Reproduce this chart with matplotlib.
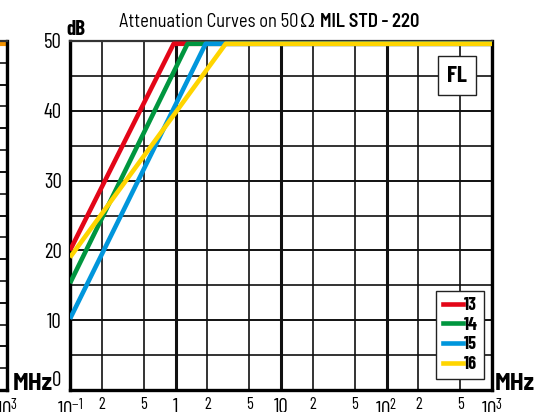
import matplotlib
matplotlib.use('Agg')
import matplotlib.pyplot as plt
from matplotlib.lines import Line2D

W, H, DPI = 551, 412, 100

# ---------------- data ----------------
series_labels = ['13', '14', '15', '16']
series_colors = ['#e30618', '#00963f', '#0096dc', '#ffd500']
freq_13 = [0.1, 0.96, 1000]
db_13 = [20.0, 49.6, 49.6]
freq_14 = [0.1, 1.30, 1000]
db_14 = [15.3, 49.6, 49.6]
freq_15 = [0.1, 1.93, 1000]
db_15 = [10.2, 49.6, 49.6]
freq_16 = [0.1, 2.99, 1000]
db_16 = [19.0, 49.6, 49.6]

x_major_ticks = [0.1, 1, 10, 100, 1000]
x_major_labels = ['$10^{-1}$', '1', '10', '$10^{2}$', '$10^{3}$']
x_minor_ticks = [0.2, 0.5, 2, 5, 20, 50, 200, 500]
x_minor_labels = ['2', '5', '2', '5', '2', '5', '2', '5']
y_major_ticks = [0, 10, 20, 30, 40, 50]
y_minor_ticks = [5, 15, 25, 35, 45]

# neighbouring chart fragment (left edge)
frag_freq = [0.1, 1000]
frag_db = [79.3, 79.3]
frag_y_major = list(range(0, 81, 10))
frag_y_minor = list(range(5, 80, 10))

FONT = 'Barlow Condensed'
SEMI = 'Barlow Semi Condensed'
plt.rcParams['font.family'] = [FONT, 'DejaVu Sans']
plt.rcParams['mathtext.fontset'] = 'custom'
plt.rcParams['mathtext.rm'] = FONT
plt.rcParams['mathtext.it'] = FONT
plt.rcParams['mathtext.bf'] = FONT + ':bold'

fig = plt.figure(figsize=(W / DPI, H / DPI), dpi=DPI)
L, R, T, B = 70, 492, 41, 390
GRID = '#111111'


def style_axes(a, ylim, ymaj, ymin):
    a.set_xscale('log')
    a.set_xlim(0.1, 1000)
    a.set_ylim(*ylim)
    a.set_yticks(ymaj)
    a.set_yticks(ymin, minor=True)
    a.set_axisbelow(True)
    a.grid(True, which='major', axis='x', color=GRID, lw=2.2)
    a.grid(True, which='minor', axis='x', color=GRID, lw=1.2)
    a.grid(True, which='major', axis='y', color=GRID, lw=1.4)
    a.grid(True, which='minor', axis='y', color=GRID, lw=1.2)
    for s in ['left', 'bottom', 'right']:
        a.spines[s].set_linewidth(2.4)
        a.spines[s].set_color('#000000')
    a.spines['top'].set_linewidth(1.6)
    a.spines['top'].set_color('#333333')


# fragment of the neighbouring chart
fx = fig.add_axes([(7 - (R - L)) / W, 1 - B / H, (R - L) / W, (B - T) / H])
style_axes(fx, (0, 80), frag_y_major, frag_y_minor)
fx.plot(frag_freq, frag_db, color='#f39200', lw=3.0, solid_capstyle='butt')
fx.set_xticks([1000])
fx.set_xticklabels(['$10^{3}$'])
fx.set_xticks([], minor=True)
fx.set_yticklabels([])
fx.tick_params(axis='both', which='both', length=0)
fx.tick_params(axis='x', which='major', pad=6, labelsize=15)

# main chart
ax = fig.add_axes([L / W, 1 - B / H, (R - L) / W, (B - T) / H])
style_axes(ax, (0, 50), y_major_ticks, y_minor_ticks)
ax.set_xticks(x_major_ticks)
ax.set_xticklabels(x_major_labels)
ax.set_xticks(x_minor_ticks, minor=True)
ax.set_xticklabels(x_minor_labels, minor=True)
ax.set_yticklabels([str(v) for v in y_major_ticks])
ax.tick_params(axis='both', which='both', length=0)
ax.tick_params(axis='x', which='major', pad=6, labelsize=15)
ax.tick_params(axis='x', which='minor', pad=5, labelsize=12)
ax.tick_params(axis='y', which='major', pad=6, labelsize=15)
ax.yaxis.get_major_ticks()[0].label1.set_va('bottom')

series = [(freq_13, db_13), (freq_14, db_14), (freq_15, db_15), (freq_16, db_16)]
handles = []
for (f, d), c, lab in zip(series, series_colors, series_labels):
    ax.plot(f, d, color=c, lw=3.3, solid_capstyle='butt', zorder=3)
    handles.append(Line2D([], [], color=c, lw=3.3))

leg = ax.legend(handles, series_labels, loc='lower right',
                bbox_to_anchor=(0.982, 0.031), frameon=True, fancybox=False,
                edgecolor='#222222', framealpha=1, handlelength=1.15,
                handletextpad=0.05, borderpad=0.35, labelspacing=0.14,
                borderaxespad=0, prop={'weight': 'bold', 'size': 13})
leg.get_frame().set_linewidth(1.0)
leg.set_zorder(5)

ax.text(0.917, 0.901, 'FL', transform=ax.transAxes, ha='center', va='center',
        fontsize=17, fontweight='bold', zorder=6,
        bbox=dict(boxstyle='square,pad=0.4', fc='white', ec='#222222', lw=1.0))

# axis unit labels
fig.text(66 / W, 1 - 35 / H, 'dB', fontsize=15, fontweight='bold', ha='left', va='baseline')
fig.text(495 / W, 1 - 390 / H, 'MHz', fontsize=18, fontweight='bold', ha='left',
         va='baseline', family=SEMI)
fig.text(13 / W, 1 - 390 / H, 'MHz', fontsize=18, fontweight='bold', ha='left',
         va='baseline', family=SEMI)

# title in parts
renderer = fig.canvas.get_renderer()
x0 = 119
ty = 1 - 27 / H
t1 = fig.text(x0 / W, ty, 'Attenuation Curves on 50', fontsize=13.3, family=SEMI,
              ha='left', va='baseline')
w1 = t1.get_window_extent(renderer).width
t2 = fig.text((x0 + w1 + 1) / W, ty, '\u03a9', fontsize=13, family='DejaVu Serif',
              ha='left', va='baseline')
w2 = t2.get_window_extent(renderer).width
t3 = fig.text((x0 + w1 + w2 + 7) / W, ty, 'MIL STD - 220', fontsize=13.3, family=SEMI,
              fontweight='semibold', ha='left', va='baseline')

fig.savefig('out.png', dpi=DPI)
